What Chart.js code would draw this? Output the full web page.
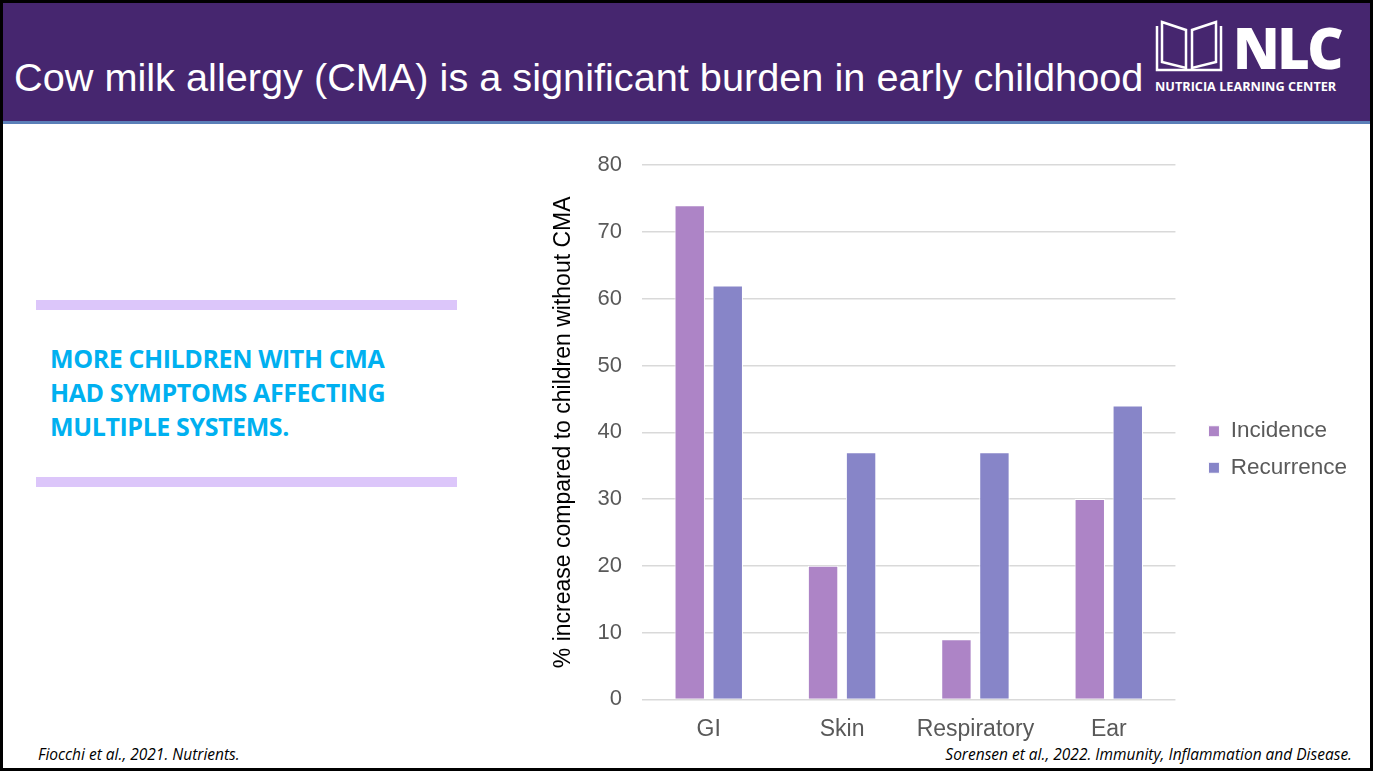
<!DOCTYPE html>
<html>
<head>
<meta charset="utf-8">
<script src="https://cdn.jsdelivr.net/npm/chart.js@4"></script>
<style>
  html, body { margin: 0; padding: 0; background: #fff; }
  #slide {
    position: relative; width: 1373px; height: 771px; box-sizing: border-box;
    border: 3px solid #000; overflow: hidden; font-family: "Liberation Sans", Arial, sans-serif;
  }
  #header {
    position: absolute; left: 0; top: 0; right: 0; height: 118px;
    background: #46266f; border-bottom: 3px solid #5b7fb8;
  }
  #title {
    position: absolute; left: 11px; top: 52px; color: #fff; font-size: 39.7px; white-space: nowrap;
  }
  #logo { position: absolute; left: 1150px; top: 15px; }
  #nlc {
    position: absolute; left: 1230px; top: 6px; color: #fff; font-family: "Open Sans", sans-serif;
    font-weight: 800; font-size: 56px; letter-spacing: -2.5px;
  }
  #nlcsub {
    position: absolute; left: 1152px; top: 74px; color: #fff; font-family: "Open Sans", sans-serif;
    font-weight: 700; font-size: 12.7px; white-space: nowrap;
  }
  .bar { position: absolute; left: 33px; width: 421px; height: 10px; background: #dcc6fa; }
  #msg {
    position: absolute; left: 47px; top: 338px; color: #00b0f0; font-family: "Open Sans", sans-serif;
    font-weight: 700; font-size: 25px; line-height: 34px; letter-spacing: -0.4px;
  }
  .cite { position: absolute; font-family: "Open Sans", sans-serif; font-style: italic; font-size: 15.5px; color: #000; }
  #chartBox { position: absolute; left: 543px; top: 129px; width: 817px; height: 619px; }
</style>
</head>
<body>
<div id="slide">
  <div id="header">
    <div id="title">Cow milk allergy (CMA) is a significant burden in early childhood</div>
    <svg id="logo" width="75" height="60" viewBox="0 0 75 60">
      <g fill="none" stroke="#fff" stroke-width="2.5">
        <path d="M4 8 V52 H68 V8" />
        <path d="M9 4 L33 12 V50 L9 44 Z" />
        <path d="M63 4 L39 12 V50 L63 44 Z" />
      </g>
    </svg>
    <div id="nlc">NLC</div>
    <div id="nlcsub">NUTRICIA LEARNING CENTER</div>
  </div>

  <div class="bar" style="top:297px"></div>
  <div id="msg">MORE CHILDREN WITH CMA<br>HAD SYMPTOMS AFFECTING<br>MULTIPLE SYSTEMS.</div>
  <div class="bar" style="top:474px"></div>

  <div class="cite" style="left:35px; top:740px">Fiocchi et al., 2021. Nutrients.</div>
  <div class="cite" style="right:18px; top:740px">Sorensen et al., 2022. Immunity, Inflammation and Disease.</div>

  <div id="chartBox"><canvas id="chart-symptoms"></canvas></div>
</div>

<script>
const categories = ["GI", "Skin", "Respiratory", "Ear"];
const incidence = [74, 20, 9, 30];
const recurrence = [62, 37, 37, 44];
const yTicks = [0, 10, 20, 30, 40, 50, 60, 70, 80];

const grey = "#595959";

// push the legend a bit further away from the plot area
const legendGap = {
  id: "legendGap",
  afterLayout(chart) {
    chart.legend.left += 19;
    chart.legend.right += 19;
    chart.legend.top += 3;
    chart.legend.bottom += 3;
  },
};

const config = {
  type: "bar",
  data: {
    labels: categories,
    datasets: [
      {
        label: "Incidence",
        data: incidence,
        backgroundColor: "#ad84c6",
        borderColor: "#ffffff",
        borderWidth: 1,
        categoryPercentage: 0.57,
        barPercentage: 0.8,
      },
      {
        label: "Recurrence",
        data: recurrence,
        backgroundColor: "#8785c8",
        borderColor: "#ffffff",
        borderWidth: 1,
        categoryPercentage: 0.57,
        barPercentage: 0.8,
      },
    ],
  },
  options: {
    responsive: true,
    maintainAspectRatio: false,
    animation: false,
    layout: { padding: { top: 10, right: 25 } },
    plugins: {
      tooltip: { enabled: false },
      legend: {
        position: "right",
        labels: {
          color: grey,
          font: { family: "Liberation Sans", size: 22.5 },
          boxWidth: 11,
          boxHeight: 11,
          padding: 14,
        },
      },
    },
    scales: {
      x: {
        grid: { display: false },
        border: { display: false },
        ticks: { color: grey, font: { family: "Liberation Sans", size: 23 }, padding: 8 },
      },
      y: {
        min: 0,
        max: 80,
        afterBuildTicks: (axis) => {
          axis.ticks = yTicks.map((v) => ({ value: v }));
        },
        grid: { color: "#d9d9d9", lineWidth: 1.5, drawTicks: false },
        border: { display: false },
        ticks: { color: grey, font: { family: "Liberation Sans", size: 22 }, padding: 20 },
        title: {
          display: true,
          text: "% increase compared to children without CMA",
          color: "#000",
          font: { family: "Liberation Sans", size: 23 },
          padding: { top: 4, bottom: 0 },
        },
      },
    },
  },
  plugins: [legendGap],
};

new Chart(document.getElementById("chart-symptoms"), config);
</script>
</body>
</html>
